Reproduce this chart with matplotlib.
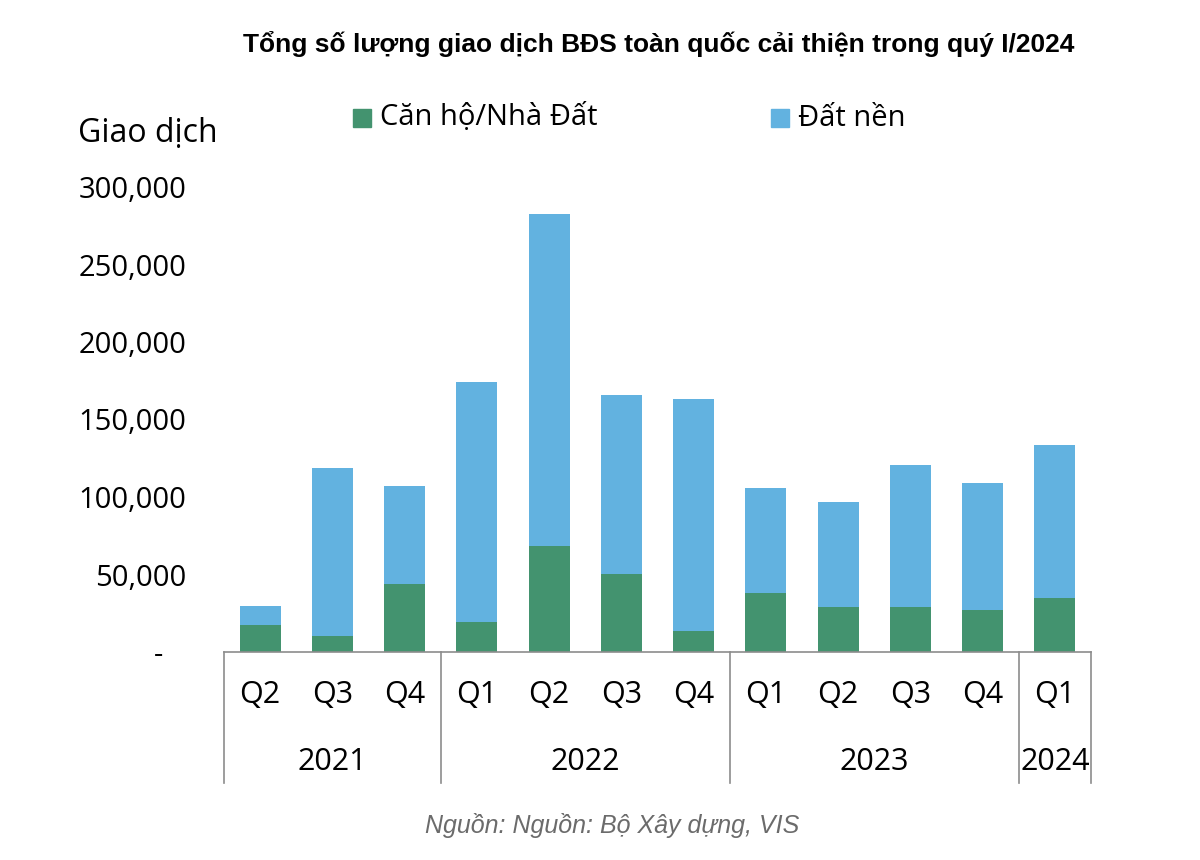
import matplotlib.pyplot as plt
import matplotlib.transforms as mtransforms
import numpy as np

# Data
quarters = ["Q2", "Q3", "Q4", "Q1", "Q2", "Q3", "Q4", "Q1", "Q2", "Q3", "Q4", "Q1"]
years = ["2021", "2022", "2023", "2024"]
year_counts = [3, 4, 4, 1]
can_ho = [17400, 10300, 43900, 19400, 68400, 50300, 13500, 38100, 29000, 29000, 27100, 34800]
dat_nen_total = [29700, 118700, 107100, 174200, 282600, 165800, 163200, 105800, 96800, 120600, 109000, 133500]
dat_nen = [t - c for t, c in zip(dat_nen_total, can_ho)]
yticks = [0, 50000, 100000, 150000, 200000, 250000, 300000]
ytick_labels = ["-   ", "50,000", "100,000", "150,000", "200,000", "250,000", "300,000"]

GREEN = "#43936F"
BLUE = "#62B2E0"
GRID = "#8c8c8c"
FONT = "Open Sans"

fig = plt.figure(figsize=(12, 8.6), dpi=100)
ax = fig.add_axes([224 / 1200, 1 - 652 / 860, (1091 - 224) / 1200, (652 - 187) / 860])

x = np.arange(len(quarters))
ax.bar(x, can_ho, width=0.57, color=GREEN)
ax.bar(x, dat_nen, width=0.57, bottom=can_ho, color=BLUE)

ax.set_xlim(-0.5, len(quarters) - 0.5)
ax.set_ylim(0, 300000)
ax.set_yticks(yticks)
ax.set_yticklabels(ytick_labels, fontsize=21, family=FONT)
ax.tick_params(axis="y", length=0, pad=27)
ax.set_xticks([])
for s in ["top", "right", "left"]:
    ax.spines[s].set_visible(False)
ax.spines["bottom"].set_color(GRID)
ax.spines["bottom"].set_linewidth(1.2)

trans = mtransforms.blended_transform_factory(ax.transData, ax.transAxes)
# quarter labels
for xi, q in zip(x, quarters):
    ax.text(xi, -0.093, q, transform=trans, ha="center", va="center",
            fontsize=22, family=FONT)
# year groups and separators
start = -0.5
ax.plot([start, start], [0, -0.282], transform=trans, color=GRID, lw=1.2, clip_on=False)
for yr, n in zip(years, year_counts):
    end = start + n
    ax.plot([end, end], [0, -0.282], transform=trans, color=GRID, lw=1.2, clip_on=False)
    ax.text((start + end) / 2, -0.237, yr, transform=trans, ha="center", va="center",
            fontsize=22, family=FONT)
    start = end

# axis title and legend
fig.text(78 / 1200, 1 - 133 / 860, "Giao dịch", fontsize=23, family=FONT, va="center")
fig.patches.append(plt.Rectangle((353 / 1200, 1 - 127 / 860), 18 / 1200, 18 / 860,
                                 transform=fig.transFigure, color=GREEN))
fig.text(380 / 1200, 1 - 118 / 860, "Căn hộ/Nhà Đất", fontsize=21, family=FONT, va="center")
fig.patches.append(plt.Rectangle((771 / 1200, 1 - 127 / 860), 18 / 1200, 18 / 860,
                                 transform=fig.transFigure, color=BLUE))
fig.text(798 / 1200, 1 - 118 / 860, "Đất nền", fontsize=21, family=FONT, va="center")

fig.text(659 / 1200, 1 - 44 / 860,
         "Tổng số lượng giao dịch BĐS toàn quốc cải thiện trong quý I/2024",
         fontsize=19, fontweight="bold", family="Liberation Sans", ha="center", va="center")
fig.text(612 / 1200, 1 - 826 / 860, "Nguồn: Nguồn: Bộ Xây dựng, VIS",
         fontsize=18, style="italic", color="#6b6b6b", family="Liberation Sans",
         ha="center", va="center")

fig.savefig("out.png", dpi=100)
